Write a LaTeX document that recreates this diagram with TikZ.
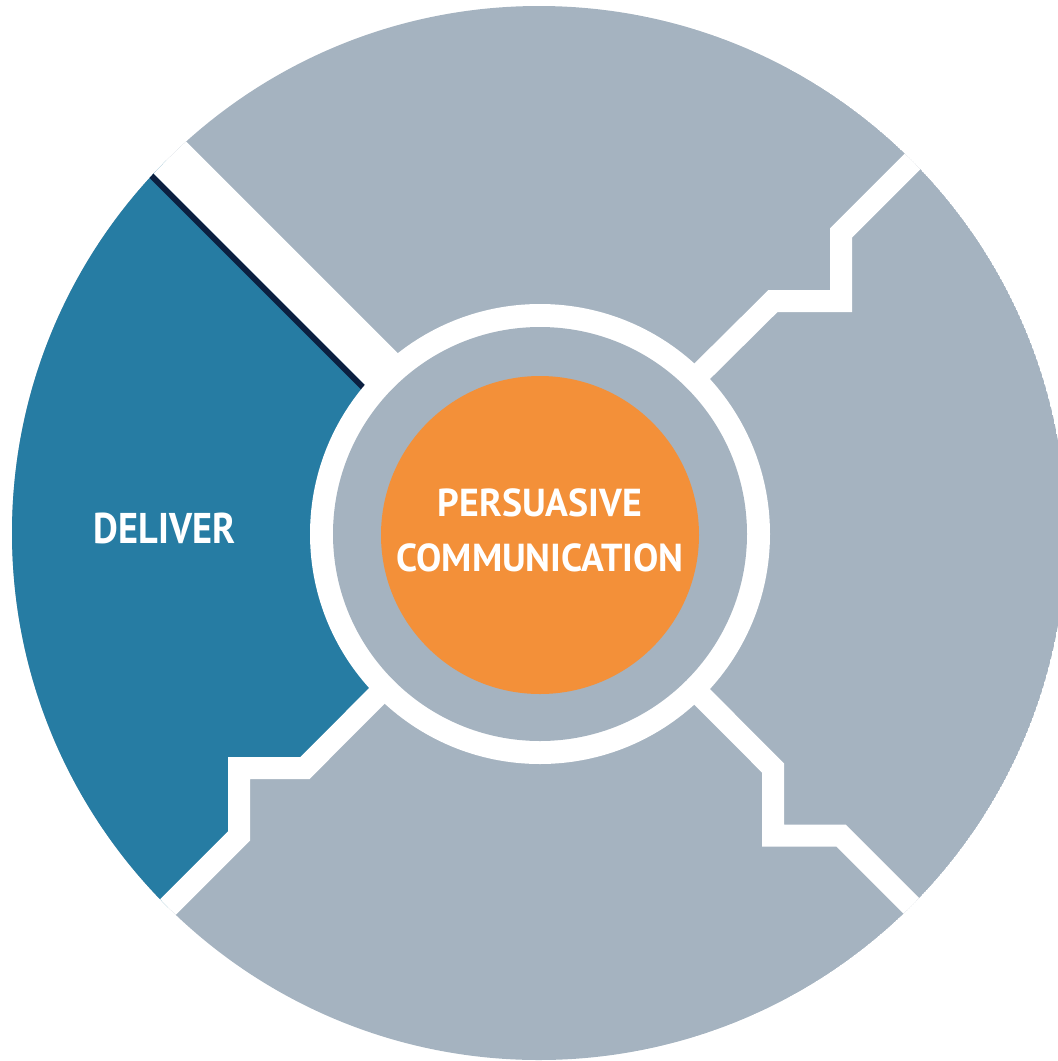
\documentclass[tikz,border=0pt]{standalone}
\usepackage{graphicx}
\usepackage{fontspec}
\setmainfont{PT Sans}
\definecolor{segGrey}{HTML}{A5B3C0}
\definecolor{segBlue}{HTML}{267CA3}
\definecolor{segNavy}{HTML}{0C1F40}
\definecolor{hubOrange}{HTML}{F39039}
\begin{document}
\begin{tikzpicture}[x=1pt,y=-1pt,
  gapline/.style={draw=white, line width=22pt, line join=miter, line cap=butt},
  widegap/.style={draw=white, line width=45.7pt, line cap=butt},
  navyedge/.style={draw=segNavy, line width=6pt, line cap=butt},
  lbl/.style={text=white, font=\bfseries, inner sep=0pt}]
\useasboundingbox (0,0) rectangle (1058,1061);
\begin{scope}[shift={(539,533)}]
  % outer disc with segments
  \begin{scope}
    \clip (0,0) circle[radius=527pt];
    \fill[segGrey] (0,0) circle[radius=527pt];
    \fill[segBlue] (0,0) -- (-600,-600) -- (-800,-600) -- (-800,703) -- (-700,703)
      -- (-300,303) -- (-300,235) -- (-235,235) -- cycle;
    \draw[navyedge] (-15.1,15.1) -- (-615.1,-584.9);
    % gaps
    \draw[widegap] (3.2,-3.2) -- (-596.8,-603.2);
    \draw[gapline] (0,0) -- (234,-232) -- (302,-232) -- (302,-300) -- (702,-700);
    \draw[gapline] (0,0) -- (234,235) -- (234,302.5) -- (302,302.5) -- (702,702.5);
    \draw[gapline] (0,0) -- (-234,235) -- (-300,235) -- (-300,303) -- (-700,703);
  \end{scope}
  % hub
  \fill[white] (1,1) circle[radius=230pt];
  \fill[segGrey] (1,1) circle[radius=207pt];
  \fill[hubOrange] (1,2) circle[radius=159pt];
  % labels
  \node[lbl, font=\bfseries\fontsize{43}{50}\selectfont] (deliver) at (-374.5,-4.5)
    {\scalebox{0.89}[1]{DELIVER}};
  \node[lbl, font=\bfseries\fontsize{39}{55}\selectfont, align=center] (hub) at (1,-3)
    {\scalebox{0.97}[1]{PERSUASIVE}\\\scalebox{0.97}[1]{COMMUNICATION}};
\end{scope}
\end{tikzpicture}
\end{document}
